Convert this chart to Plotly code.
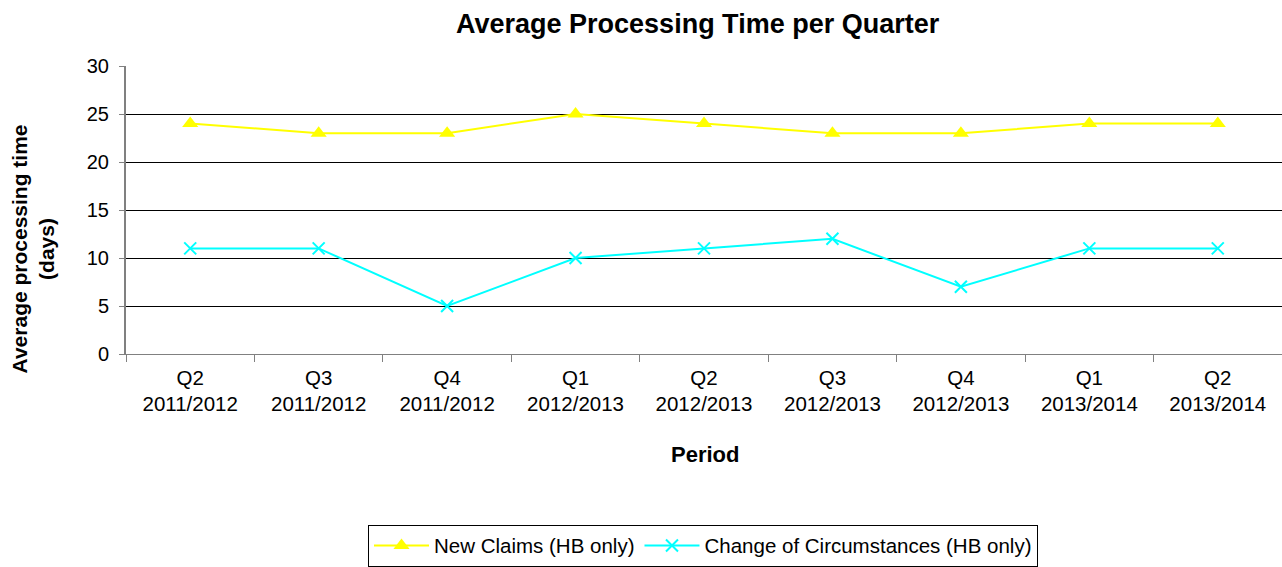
import plotly.graph_objects as go

quarters = ["Q2", "Q3", "Q4", "Q1", "Q2", "Q3", "Q4", "Q1", "Q2"]
years = ["2011/2012", "2011/2012", "2011/2012", "2012/2013", "2012/2013",
         "2012/2013", "2012/2013", "2013/2014", "2013/2014"]
categories = [f"{q}<br>{y}" for q, y in zip(quarters, years)]
new_claims = [24, 23, 23, 25, 24, 23, 23, 24, 24]
change_circ = [11, 11, 5, 10, 11, 12, 7, 11, 11]

FONT = "Liberation Sans, Arial, sans-serif"

fig = go.Figure()
fig.add_trace(go.Scatter(
    x=categories, y=new_claims, mode="lines+markers", name="New Claims (HB only)",
    line=dict(color="#FFFF00", width=2),
    marker=dict(symbol="triangle-up", size=14, color="#FFFF00"),
))
fig.add_trace(go.Scatter(
    x=categories, y=change_circ, mode="lines+markers",
    name="Change of Circumstances (HB only)",
    line=dict(color="#00FFFF", width=2),
    marker=dict(symbol="x-thin", size=12, color="#00FFFF",
                line=dict(color="#00FFFF", width=2)),
))

fig.update_layout(
    width=1282, height=567,
    margin=dict(l=126, r=0, t=66, b=209),
    paper_bgcolor="white", plot_bgcolor="white",
    font=dict(family=FONT, size=20, color="black"),
    showlegend=True,
    legend=dict(
        orientation="h", x=(703 - 126) / 1156, xanchor="center", y=-0.5925, yanchor="top",
        bordercolor="black", borderwidth=1, font=dict(size=20.5),
        itemwidth=55, tracegroupgap=0,
    ),
    xaxis=dict(
        type="category", range=[-0.5, 8.5],
        showgrid=False, showline=True, linecolor="#808080", linewidth=1,
        ticks="outside", tickson="boundaries", ticklen=7, tickcolor="#808080",
        tickfont=dict(size=20.5), ticklabelstandoff=5,
        zeroline=False,
    ),
    yaxis=dict(
        range=[0, 30], dtick=5, showgrid=True, gridcolor="black", gridwidth=1,
        showline=True, linecolor="#808080", linewidth=2,
        ticks="outside", ticklen=5, tickcolor="#808080",
        tickfont=dict(size=20), ticklabelstandoff=6, zeroline=False,
    ),
    annotations=[
        dict(text="<b>Average Processing Time per Quarter</b>", xref="paper", yref="paper",
             x=(698 - 126) / 1156, y=(358 - 23) / 292, xanchor="center", yanchor="middle",
             showarrow=False, font=dict(size=27)),
        dict(text="<b>Period</b>", xref="paper", yref="paper",
             x=(705 - 126) / 1156, y=(358 - 460) / 292, xanchor="center", yanchor="middle",
             showarrow=False, font=dict(size=22)),
        dict(text="<b>Average processing time<br>(days)</b>", xref="paper", yref="paper",
             x=(33 - 126) / 1156, y=(358 - 252) / 292, xanchor="center", yanchor="middle",
             textangle=-90, showarrow=False, font=dict(size=21)),
    ],
)

fig.write_html(
    "out.html",
    config={"displayModeBar": False},
    post_script="document.body.style.margin='0px';document.body.style.overflow='hidden';",
)
